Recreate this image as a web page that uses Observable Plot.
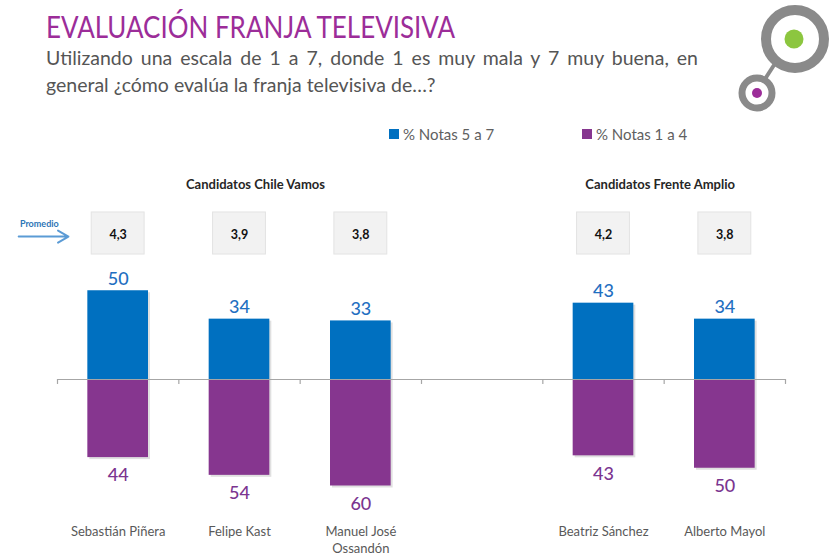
<!DOCTYPE html>
<html>
<head>
<meta charset="utf-8">
<script src="https://cdn.jsdelivr.net/npm/d3@7"></script>
<script src="https://cdn.jsdelivr.net/npm/@observablehq/plot@0.6"></script>
<style>
  body { margin: 0; background: #fff; }
  #wrap { position: relative; width: 840px; height: 556px; overflow: hidden; font-family: Lato, "Open Sans", sans-serif; }
  #header { position: relative; height: 160px; }
  #title { position: absolute; left: 46px; top: 8px; font-size: 30px; color: #9c2d99; white-space: nowrap; transform: scaleX(0.865); transform-origin: left center; }
  #sub { position: absolute; left: 46px; top: 44px; width: 652px; font-size: 19.5px; color: #555; line-height: 27px; }
  #sub .l1 { text-align: justify; text-align-last: justify; white-space: nowrap; }
  #legend { position: absolute; top: 125px; left: 0; font-size: 15px; color: #606060; }
  .lg { position: absolute; white-space: nowrap; display: flex; align-items: center; }
  .sw { width: 10px; height: 10px; margin-right: 4px; display: inline-block; }
  #logo { position: absolute; left: 730px; top: 0px; }
  #plot { position: absolute; top: 160px; left: 0; }
</style>
</head>
<body>
<div id="wrap">
  <div id="header">
    <div id="title"></div>
    <div id="sub"><div class="l1"></div><div class="l2"></div></div>
    <div id="legend"></div>
    <svg id="logo" width="110" height="120" viewBox="730 0 110 120">
      <line x1="776" y1="62" x2="765" y2="79" stroke="#8a8a8a" stroke-width="4"/>
      <circle cx="795" cy="39" r="29" fill="#fff" stroke="#8a8a8a" stroke-width="10"/>
      <circle cx="794" cy="39" r="9.5" fill="#8cc63f"/>
      <circle cx="757" cy="93" r="15" fill="#fff" stroke="#8a8a8a" stroke-width="7"/>
      <circle cx="757" cy="93" r="5" fill="#9c2d99"/>
    </svg>
  </div>
  <div id="plot"></div>
</div>
<script>
// ---- data ----
const titleText = "EVALUACIÓN FRANJA TELEVISIVA";
const subtitleLines = [
  "Utilizando una escala de 1 a 7, donde 1 es muy mala y 7 muy buena, en",
  "general ¿cómo evalúa la franja televisiva de…?"
];
const seriesNames = ["% Notas 5 a 7", "% Notas 1 a 4"];
const seriesColors = ["#0070c0", "#86368f"];
const candidates = ["Sebastián Piñera", "Felipe Kast", "Manuel José\nOssandón", "Beatriz Sánchez", "Alberto Mayol"];
const groupNames = ["Candidatos Chile Vamos", "Candidatos Frente Amplio"];
const candidateGroup = [0, 0, 0, 1, 1];
const notas5a7 = [50, 34, 33, 43, 34];
const notas1a4 = [44, 54, 60, 43, 50];
const promedio = ["4,3", "3,9", "3,8", "4,2", "3,8"];
const promedioLabel = "Promedio";

// ---- header ----
document.getElementById("title").textContent = titleText;
document.querySelector("#sub .l1").textContent = subtitleLines[0];
document.querySelector("#sub .l2").textContent = subtitleLines[1];
const legendPos = [389, 582];
const legend = document.getElementById("legend");
seriesNames.forEach((n, i) => {
  const d = document.createElement("div");
  d.className = "lg";
  d.style.left = legendPos[i] + "px";
  d.innerHTML = `<span class="sw" style="background:${seriesColors[i]}"></span><span></span>`;
  d.lastChild.textContent = n;
  legend.appendChild(d);
});

// ---- chart ----
// slots: three Chile Vamos candidates, an empty slot, two Frente Amplio candidates
const slotDomain = [candidates[0], candidates[1], candidates[2], null, candidates[3], candidates[4]];
const rows = candidates.map((c, i) => ({
  name: c,
  slot: slotDomain.indexOf(c),
  pos: notas5a7[i],
  neg: notas1a4[i],
  avg: promedio[i],
  group: candidateGroup[i]
}));
const groupShift = [16, -4]; // pixel nudge of each group heading
const groups = groupNames.map((g, gi) => {
  const s = rows.filter(r => r.group === gi);
  return { name: g, center: d3.mean(s, r => r.slot + 0.5), shift: groupShift[gi] };
});

const grey = "#a6a6a6";
const chart = Plot.plot({
  width: 840,
  height: 396,
  margin: 0,
  x: { type: "linear", domain: [0, 6], range: [57, 785], axis: null },
  y: { type: "linear", domain: [-100, 100], range: [396.5, 41.5], axis: null },
  style: { fontFamily: "Lato, 'Open Sans', sans-serif", overflow: "visible", background: "transparent" },
  marks: [
    // shadows
    Plot.rect(rows, { x1: d => d.slot + 0.25, x2: d => d.slot + 0.75, y1: 0, y2: d => d.pos, fill: "#000", fillOpacity: 0.12, dx: 2, dy: 2 }),
    Plot.rect(rows, { x1: d => d.slot + 0.25, x2: d => d.slot + 0.75, y1: 0, y2: d => -d.neg, fill: "#000", fillOpacity: 0.12, dx: 2, dy: 2 }),
    // bars
    Plot.rect(rows, { x1: d => d.slot + 0.25, x2: d => d.slot + 0.75, y1: 0, y2: d => d.pos, fill: seriesColors[0] }),
    Plot.rect(rows, { x1: d => d.slot + 0.25, x2: d => d.slot + 0.75, y1: 0, y2: d => -d.neg, fill: seriesColors[1] }),
    // axis line and ticks
    Plot.ruleY([0], { x1: 0, x2: 6, stroke: grey, strokeWidth: 1.2 }),
    Plot.ruleX(d3.range(0, 7), { x: d => d, y1: 0, y2: -2.8, stroke: grey, strokeWidth: 1.2 }),
    // value labels
    Plot.text(rows, { x: d => d.slot + 0.5, y: d => d.pos, text: d => String(d.pos), dy: -12, fill: "#1f6fc1", fontSize: 18, fontWeight: 500 }),
    Plot.text(rows, { x: d => d.slot + 0.5, y: d => -d.neg, text: d => String(d.neg), dy: 18, fill: "#7b3590", fontSize: 18, fontWeight: 500 }),
    // category labels
    Plot.text(rows, { x: d => d.slot + 0.5, y: -81.5, text: "name", lineAnchor: "top", lineHeight: 1.3, fill: "#595959", fontSize: 13 }),
    // promedio boxes
    Plot.rect(rows, { x1: d => d.slot + 0.282, x2: d => d.slot + 0.718, y1: 70.4, y2: 94.1, fill: "#f2f2f2", stroke: "#e3e3e3" }),
    Plot.text(rows, { x: d => d.slot + 0.5, y: 81.6, text: "avg", fill: "#111", fontWeight: "bold", fontSize: 12.5 }),
    // promedio arrow + label
    Plot.arrow([promedioLabel], { x1: -0.32, x2: 0.09, y1: 80.5, y2: 80.5, stroke: "#5b9bd5", strokeWidth: 2, headLength: 9 }),
    Plot.text([promedioLabel], { x: -0.31, y: 87.5, text: d => d, textAnchor: "start", fill: "#2e75b6", fontWeight: "bold", fontSize: 9 }),
    // group headings
    ...groups.map(g => Plot.text([g], { x: "center", y: 109.9, text: "name", fill: "#262626", fontWeight: "bold", fontSize: 13, dx: g.shift }))
  ]
});
document.getElementById("plot").appendChild(chart);
</script>
</body>
</html>
